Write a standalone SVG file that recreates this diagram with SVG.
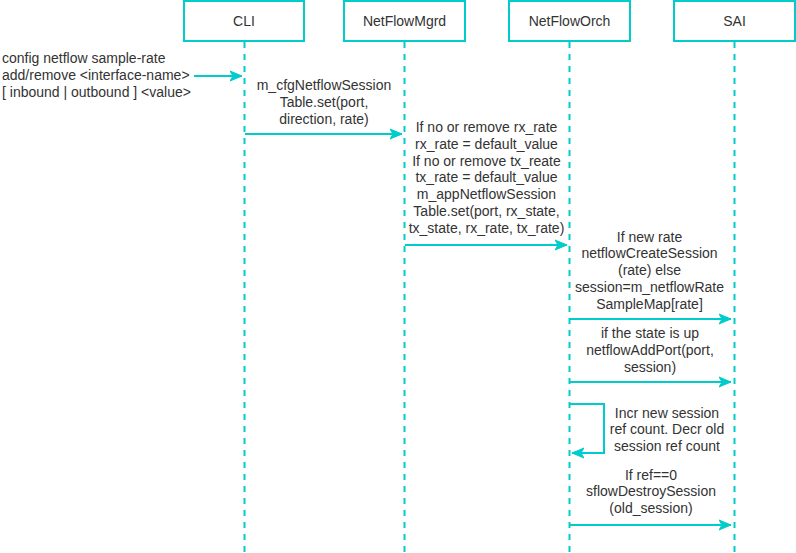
<svg xmlns="http://www.w3.org/2000/svg" width="796" height="553" viewBox="0 0 796 553">
<defs>
<style>
.box{fill:#ffffff;stroke:#00CCCC;stroke-width:2}
.life{stroke:#00CCCC;stroke-width:2;stroke-dasharray:6 6;fill:none}
.msg{stroke:#00CCCC;stroke-width:2;fill:none;marker-end:url(#ah)}
text{font-family:"Liberation Sans",Arial,Helvetica,sans-serif;font-size:14px;fill:#333333}
.c{text-anchor:middle}
</style>
<marker id="ah" markerUnits="userSpaceOnUse" markerWidth="14" markerHeight="12" refX="12" refY="6" orient="auto">
<path d="M0,1 L12,6 L0,11 L3,6 Z" fill="#00CCCC" stroke="#00CCCC" stroke-width="1"/>
</marker>
</defs>
<rect width="796" height="553" fill="#ffffff"/>
<g id="lifelines">
<line class="life" x1="244.5" y1="42" x2="244.5" y2="553"/>
<line class="life" x1="404.5" y1="42" x2="404.5" y2="553"/>
<line class="life" x1="569.5" y1="42" x2="569.5" y2="553"/>
<line class="life" x1="734.5" y1="42" x2="734.5" y2="553"/>
</g>
<g id="node-cli"><rect class="box" x="184" y="1" width="120" height="40"/><text class="c" x="244" y="26">CLI</text></g>
<g id="node-netflowmgrd"><rect class="box" x="344" y="1" width="121" height="40"/><text class="c" x="404.5" y="26">NetFlowMgrd</text></g>
<g id="node-netfloworch"><rect class="box" x="509" y="1" width="121" height="40"/><text class="c" x="569.5" y="26">NetFlowOrch</text></g>
<g id="node-sai"><rect class="box" x="674" y="1" width="121" height="40"/><text class="c" x="734.5" y="26">SAI</text></g>
<g id="connectors">
<line class="msg" x1="194" y1="76" x2="242" y2="76"/>
<line class="msg" x1="245" y1="134" x2="402" y2="134"/>
<line class="msg" x1="405" y1="245" x2="567" y2="245"/>
<line class="msg" x1="570" y1="319" x2="731" y2="319"/>
<line class="msg" x1="570" y1="382" x2="731" y2="382"/>
<polyline class="msg" points="570,404 604,404 604,453 572,453"/>
<line class="msg" x1="570" y1="525" x2="731" y2="525"/>
</g>
<g id="labels">
<text x="2" y="63">config netflow sample-rate</text>
<text x="2" y="80">add/remove &lt;interface-name&gt;</text>
<text x="2" y="97">[ inbound | outbound ] &lt;value&gt;</text>
<text class="c" x="324" y="90">m_cfgNetflowSession</text>
<text class="c" x="324" y="107">Table.set(port,</text>
<text class="c" x="324" y="124">direction, rate)</text>
<text class="c" x="486.5" y="132">If no or remove rx_rate</text>
<text class="c" x="486.5" y="149">rx_rate = default_value</text>
<text class="c" x="486.5" y="165.5">If no or remove tx_reate</text>
<text class="c" x="486.5" y="182">tx_rate = default_value</text>
<text class="c" x="486.5" y="199">m_appNetflowSession</text>
<text class="c" x="486.5" y="216">Table.set(port, rx_state,</text>
<text class="c" x="486.5" y="232.5">tx_state, rx_rate, tx_rate)</text>
<text class="c" x="649.5" y="242">If new rate</text>
<text class="c" x="649.5" y="258">netflowCreateSession</text>
<text class="c" x="649.5" y="275">(rate) else</text>
<text class="c" x="649.5" y="292">session=m_netflowRate</text>
<text class="c" x="649.5" y="309">SampleMap[rate]</text>
<text class="c" x="650" y="338">if the state is up</text>
<text class="c" x="650" y="355">netflowAddPort(port,</text>
<text class="c" x="650" y="372">session)</text>
<text class="c" x="667" y="418">Incr new session</text>
<text class="c" x="667" y="434">ref count. Decr old</text>
<text class="c" x="667" y="451">session ref count</text>
<text class="c" x="651" y="480">If ref==0</text>
<text class="c" x="651" y="496">sflowDestroySession</text>
<text class="c" x="651" y="513">(old_session)</text>
</g>
</svg>
